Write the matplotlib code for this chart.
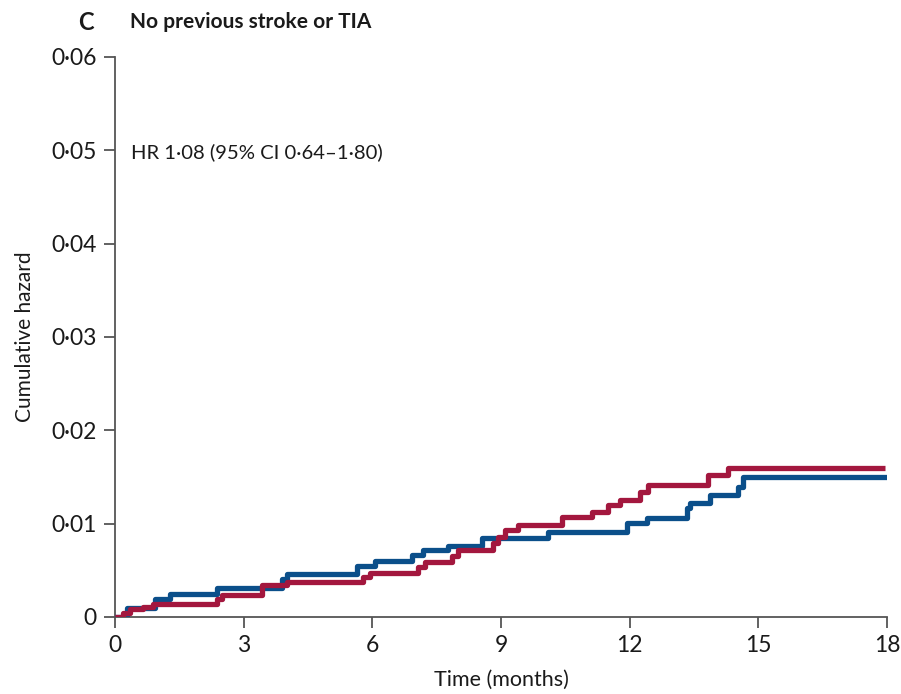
import matplotlib
matplotlib.use("Agg")
import matplotlib.pyplot as plt

plt.rcParams['font.family'] = ['Lato', 'DejaVu Sans']

# Blue curve (step times in months, cumulative hazard after step)
blue_t = [0, 0.28, 0.93, 1.28, 2.38, 3.89, 4.01, 5.64, 6.06, 6.92, 7.18, 7.76,
          8.56, 10.10, 11.94, 12.40, 13.34, 13.41, 13.87, 14.53, 14.64, 18.0]
blue_h = [0, 0.00096, 0.0019, 0.0025, 0.0031, 0.0041, 0.0046, 0.0055, 0.0060,
          0.0066, 0.0072, 0.0076, 0.0085, 0.0091, 0.0101, 0.0106, 0.0117,
          0.0122, 0.0131, 0.0139, 0.0150, 0.0150]

# Red curve
red_t = [0, 0.19, 0.35, 0.65, 0.89, 2.38, 2.49, 3.43, 4.01, 5.78, 5.95, 7.06,
         7.23, 7.86, 8.00, 8.81, 8.93, 9.09, 9.40, 10.42, 11.12, 11.49, 11.77,
         12.24, 12.43, 13.83, 14.29, 17.95]
red_h = [0, 0.0004, 0.0008, 0.0011, 0.0014, 0.0019, 0.0024, 0.0034, 0.0038,
         0.0043, 0.0047, 0.0054, 0.0059, 0.0065, 0.0072, 0.0079, 0.0086,
         0.0093, 0.0099, 0.0107, 0.0113, 0.0120, 0.0125, 0.0134, 0.0141,
         0.0152, 0.0160, 0.0160]

xticks = [0, 3, 6, 9, 12, 15, 18]
yticks = [0, 0.01, 0.02, 0.03, 0.04, 0.05, 0.06]
ytick_labels = ["0", "0·01", "0·02", "0·03", "0·04", "0·05", "0·06"]

blue_c = "#0b4f8a"
red_c = "#a3173e"

fig = plt.figure(figsize=(9.01, 6.94), dpi=100)
ax = fig.add_axes([0.1276, 0.1110, 0.8568, 0.8069])

ax.step(blue_t, blue_h, where='post', color=blue_c, lw=3.8, solid_capstyle='butt', zorder=3)
ax.step(red_t, red_h, where='post', color=red_c, lw=3.8, solid_capstyle='butt', zorder=3)

ax.set_xlim(0, 18)
ax.set_ylim(0, 0.06)
ax.set_xticks(xticks)
ax.set_xticklabels([str(t) for t in xticks])
ax.set_yticks(yticks)
ax.set_yticklabels(ytick_labels)

for s in ['top', 'right']:
    ax.spines[s].set_visible(False)
for s in ['left', 'bottom']:
    ax.spines[s].set_color("#555555")
    ax.spines[s].set_linewidth(1.3)
ax.tick_params(direction='out', length=8, width=1.3, color="#555555",
               labelsize=16.5, labelcolor="#1a1a1a", pad=5)

ax.set_xlabel("Time (months)", fontsize=15.5, color="#1a1a1a", labelpad=10)
ax.set_ylabel("Cumulative hazard", fontsize=15, color="#1a1a1a", labelpad=12)

ax.text(0.37, 0.0498, "HR 1·08 (95% CI 0·64–1·80)", fontsize=14.6, color="#1a1a1a",
        va='center', ha='left')

fig.text(78/901, 1 - 22/694, "C", fontsize=17, fontweight='bold', color="#1a1a1a",
         ha='left', va='center')
fig.text(130/901, 1 - 22/694, "No previous stroke or TIA", fontsize=15,
         fontweight='bold', color="#1a1a1a", ha='left', va='center')

fig.savefig("out.png", dpi=100)
